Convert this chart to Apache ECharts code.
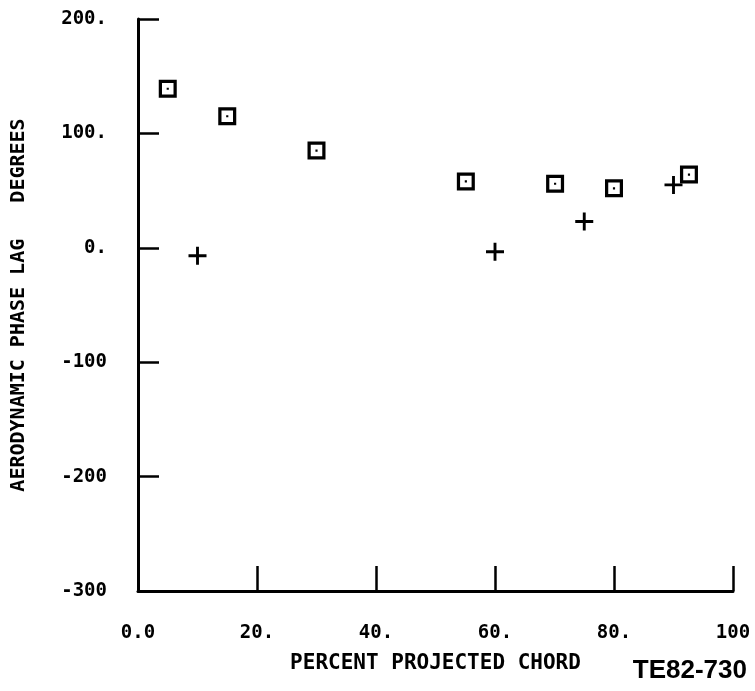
<!DOCTYPE html>
<html>
<head>
<meta charset="utf-8">
<script src="https://cdn.jsdelivr.net/npm/echarts@6/dist/echarts.min.js"></script>
<style>
  html, body { margin: 0; padding: 0; background: #fff; }
  #chart { width: 755px; height: 691px; }
</style>
</head>
<body>
<div id="chart"></div>
<script>
// values
const squareX = [5, 15, 30, 55.1, 70.1, 80, 92.6];
const squareY = [139, 115, 85, 58, 56, 52, 64];
const crossX = [10, 60, 75, 90];
const crossY = [-7, -3.5, 23, 55];

const xTickValues = [0, 20, 40, 60, 80, 100];
const xTickLabels = ['0.0', '20.', '40.', '60.', '80.', '100'];
const yTickValues = [-300, -200, -100, 0, 100, 200];
const yTickLabels = ['-300', '-200', '-100', '0.', '100.', '200.'];

const monoFont = '"DejaVu Sans Mono", "Liberation Mono", monospace';

// square outline with a dot in the middle, and a plus sign
const squareSymbol = 'path://M0,0H10V10H0Z M1.8,1.8V8.2H8.2V1.8Z M4.4,4.4H5.6V5.6H4.4Z';
const crossSymbol = 'path://M4.2,0H5.8V10H4.2Z M0,4.2H10V5.8H0Z';

const chart = echarts.init(document.getElementById('chart'));

const option = {
  backgroundColor: '#fff',
  animation: false,
  title: {
    text: 'TE82-730',
    right: 3,
    bottom: 2,
    textStyle: {
      fontFamily: '"Liberation Sans Narrow", "Liberation Sans", sans-serif',
      fontWeight: 'bold',
      fontSize: 26,
      color: '#000',
    },
  },
  grid: { left: 138, top: 19, right: 22, bottom: 100, outerBoundsMode: 'none', containLabel: false },
  xAxis: {
    type: 'value',
    min: 0,
    max: 100,
    interval: 20,
    name: 'PERCENT PROJECTED CHORD',
    nameLocation: 'middle',
    nameGap: 62,
    nameTextStyle: { fontFamily: monoFont, fontWeight: 'bold', fontSize: 21, color: '#000' },
    axisLine: { onZero: false, lineStyle: { color: '#000', width: 3 } },
    axisTick: { inside: true, length: 25, lineStyle: { color: '#000', width: 2.5 } },
    axisLabel: {
      margin: 33,
      fontFamily: monoFont,
      fontWeight: 'bold',
      fontSize: 19,
      color: '#000',
      formatter: (v) => xTickLabels[xTickValues.indexOf(v)],
    },
    splitLine: { show: false },
  },
  yAxis: {
    type: 'value',
    min: -300,
    max: 200,
    interval: 100,
    name: 'AERODYNAMIC PHASE LAG   DEGREES',
    nameLocation: 'middle',
    nameGap: 109,
    nameTextStyle: { fontFamily: monoFont, fontWeight: 'bold', fontSize: 20, color: '#000' },
    axisLine: { onZero: false, lineStyle: { color: '#000', width: 3 } },
    axisTick: { inside: true, length: 21, lineStyle: { color: '#000', width: 2.5 } },
    axisLabel: {
      margin: 31,
      fontFamily: monoFont,
      fontWeight: 'bold',
      fontSize: 19,
      color: '#000',
      formatter: (v) => yTickLabels[yTickValues.indexOf(v)],
    },
    splitLine: { show: false },
  },
  series: [
    {
      type: 'scatter',
      data: squareX.map((x, i) => [x, squareY[i]]),
      symbol: squareSymbol,
      symbolSize: 18,
      itemStyle: { color: '#000', opacity: 1 },
    },
    {
      type: 'scatter',
      data: crossX.map((x, i) => [x, crossY[i]]),
      symbol: crossSymbol,
      symbolSize: 18,
      itemStyle: { color: '#000', opacity: 1 },
    },
  ],
};

chart.setOption(option);
</script>
</body>
</html>
